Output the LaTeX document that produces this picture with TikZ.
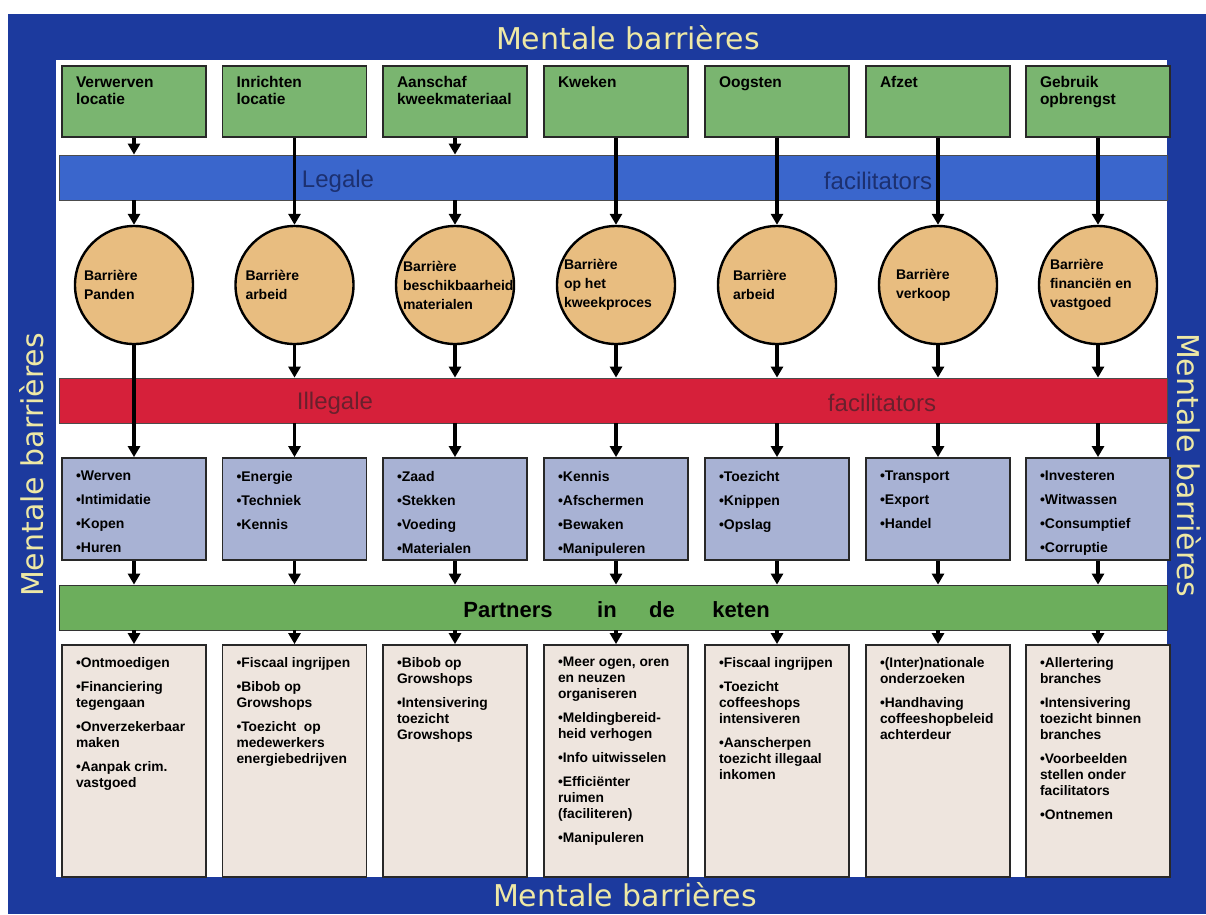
\documentclass[tikz,border=0pt]{standalone}
\usepackage{fontspec}
\setmainfont{Liberation Sans}
\newfontfamily\mbfont{DejaVu Sans}
\usetikzlibrary{arrows.meta}
\definecolor{frameblue}{RGB}{28,58,158}
\definecolor{titleyellow}{RGB}{238,232,165}
\definecolor{boxgreen}{RGB}{122,181,112}
\definecolor{barblue}{RGB}{58,102,204}
\definecolor{bartxtblue}{RGB}{28,48,112}
\definecolor{circfill}{RGB}{232,189,128}
\definecolor{barred}{RGB}{214,32,58}
\definecolor{bartxtred}{RGB}{105,32,45}
\definecolor{boxlav}{RGB}{168,178,212}
\definecolor{bargreen}{RGB}{108,174,92}
\definecolor{boxbeige}{RGB}{238,229,222}
\definecolor{edgegray}{RGB}{40,40,40}
\newcommand{\bxc}[2]{\parbox[c][#1][t]{124pt}{\raggedright\leftskip=4pt #2}}
\newcommand{\cxc}[2]{\parbox{#1}{\raggedright #2}}
\tikzset{
  every node/.style={inner sep=0pt},
  boxbase/.style={draw=edgegray, line width=1.8pt, inner xsep=10pt},
  greenbox/.style={boxbase, fill=boxgreen, inner ysep=10.5pt, font=\fontsize{15.5}{17}\selectfont\bfseries},
  lavbox/.style={boxbase, fill=boxlav, inner ysep=13pt, font=\fontsize{14}{24}\selectfont\bfseries},
  beigebox/.style={boxbase, fill=boxbeige, inner ysep=12pt, font=\fontsize{13.8}{16}\selectfont\bfseries},
  barrier/.style={circle, draw=black, line width=2.4pt, fill=circfill, minimum size=118pt, font=\fontsize{14}{19}\selectfont\bfseries},
  band/.style={draw=black!70, line width=0.8pt, minimum width=1108pt, minimum height=45pt},
  bandtxt/.style={font=\fontsize{24}{28}\selectfont},
  parttxt/.style={font=\fontsize{22}{26}\selectfont\bfseries},
  mentale/.style={font=\mbfont\fontsize{30}{34}\selectfont, text=titleyellow},
  arr/.style={draw=black, line width=3.4pt, -{Triangle[length=11pt,width=12pt]}}
}
\begin{document}
\begin{tikzpicture}[x=1pt,y=-1pt]
\useasboundingbox (0,0) rectangle (1206,914);
\fill[white] (0,0) rectangle (1206,914);
\fill[frameblue] (8,14) rectangle (1206,914);
\fill[white] (56,60) rectangle (1167,877);

% titles
\node[mentale] (ttop) at (628,38) {Mentale barrières};
\node[mentale] (tbot) at (625,895) {Mentale barrières};
\node[mentale, rotate=90] (tleft) at (32,465) {Mentale barrières};
\node[mentale, rotate=-90] (tright) at (1189,465) {Mentale barrières};

% bands
\node[band, fill=barblue] (legal) at (613,177.5) {};
\node[bandtxt, text=bartxtblue] (legalA) at (338,181) {Legale};
\node[bandtxt, text=bartxtblue] (legalB) at (878,181) {facilitators};
\node[band, fill=barred] (illegal) at (613,400.5) {};
\node[bandtxt, text=bartxtred] (illegalA) at (335,403) {Illegale};
\node[bandtxt, text=bartxtred] (illegalB) at (882,403) {facilitators};
\node[band, fill=bargreen, draw=black!80] (partners) at (613,607.5) {};
\node[parttxt] (pA) at (508,610) {Partners};
\node[parttxt] (pB) at (607,610) {in};
\node[parttxt] (pC) at (662,610) {de};
\node[parttxt] (pD) at (741,610) {keten};

% green process boxes
\node[greenbox] (g1) at (134,101.5) {\bxc{50pt}{Verwerven\\locatie}};
\node[greenbox] (g2) at (294.5,101.5) {\bxc{50pt}{Inrichten\\locatie}};
\node[greenbox] (g3) at (455,101.5) {\bxc{50pt}{Aanschaf\\kweekmateriaal}};
\node[greenbox] (g4) at (616,101.5) {\bxc{50pt}{Kweken}};
\node[greenbox] (g5) at (777,101.5) {\bxc{50pt}{Oogsten}};
\node[greenbox] (g6) at (938,101.5) {\bxc{50pt}{Afzet}};
\node[greenbox] (g7) at (1098,101.5) {\bxc{50pt}{Gebruik\\opbrengst}};

% barrier circles
\node[barrier] (c1) at (134,285) {\cxc{100pt}{Barrière\\Panden}};
\node[barrier] (c2) at (294.5,285) {\cxc{98pt}{Barrière\\arbeid}};
\node[barrier] (c3) at (455,285) {\cxc{104pt}{Barrière\\beschikbaarheid\\materialen}};
\node[barrier] (c4) at (616,285) {\cxc{104pt}{Barrière\\op het\\kweekproces}};
\node[barrier] (c5) at (777,285) {\cxc{88pt}{Barrière\\arbeid}};
\node[barrier] (c6) at (938,285) {\cxc{84pt}{Barrière\\verkoop}};
\node[barrier] (c7) at (1098,285) {\cxc{96pt}{Barrière\\financiën en\\vastgoed}};

% facilitator boxes
\node[lavbox] (f1) at (134,509) {\bxc{76pt}{•Werven\\•Intimidatie\\•Kopen\\•Huren}};
\node[lavbox] (f2) at (294.5,509) {\bxc{76pt}{•Energie\\•Techniek\\•Kennis}};
\node[lavbox] (f3) at (455,509) {\bxc{76pt}{•Zaad\\•Stekken\\•Voeding\\•Materialen}};
\node[lavbox] (f4) at (616,509) {\bxc{76pt}{•Kennis\\•Afschermen\\•Bewaken\\•Manipuleren}};
\node[lavbox] (f5) at (777,509) {\bxc{76pt}{•Toezicht\\•Knippen\\•Opslag}};
\node[lavbox] (f6) at (938,509) {\bxc{76pt}{•Transport\\•Export\\•Handel}};
\node[lavbox] (f7) at (1098,509) {\bxc{76pt}{•Investeren\\•Witwassen\\•Consumptief\\•Corruptie}};

% measure boxes
\node[beigebox] (m1) at (134,761) {\bxc{208pt}{•Ontmoedigen\\[8pt]•Financiering\\tegengaan\\[8pt]•Onverzekerbaar\\maken\\[8pt]•Aanpak crim.\\vastgoed}};
\node[beigebox] (m2) at (294.5,761) {\bxc{208pt}{•Fiscaal ingrijpen\\[8pt]•Bibob op\\Growshops\\[8pt]•Toezicht~ op\\medewerkers\\energiebedrijven}};
\node[beigebox] (m3) at (455,761) {\bxc{208pt}{•Bibob op\\Growshops\\[8pt]•Intensivering\\toezicht\\Growshops}};
\node[beigebox] (m4) at (616,761) {\bxc{208pt}{•Meer ogen, oren\\en neuzen\\organiseren\\[8pt]•Meldingbereid-\\heid verhogen\\[8pt]•Info uitwisselen\\[8pt]•Efficiënter\\ruimen\\(faciliteren)\\[8pt]•Manipuleren}};
\node[beigebox] (m5) at (777,761) {\bxc{208pt}{•Fiscaal ingrijpen\\[8pt]•Toezicht\\coffeeshops\\intensiveren\\[8pt]•Aanscherpen\\toezicht illegaal\\inkomen}};
\node[beigebox] (m6) at (938,761) {\bxc{208pt}{•(Inter)nationale\\onderzoeken\\[8pt]•Handhaving\\coffeeshopbeleid\\achterdeur}};
\node[beigebox] (m7) at (1098,761) {\bxc{208pt}{•Allertering\\branches\\[8pt]•Intensivering\\toezicht binnen\\branches\\[8pt]•Voorbeelden\\stellen onder\\facilitators\\[8pt]•Ontnemen}};

% connectors: process boxes -> barriers
\draw[arr] (g1.south) -- (g1.south |- legal.north);
\draw[arr] (g1.south |- legal.south) -- (c1.north);
\draw[arr] (g3.south) -- (g3.south |- legal.north);
\draw[arr] (g3.south |- legal.south) -- (c3.north);
\foreach \k in {2,4,5,6,7} {\draw[arr] (g\k.south) -- (c\k.north);}

% barriers -> facilitator boxes
\draw[arr] (c1.south) -- (f1.north);
\foreach \k in {2,...,7} {
  \draw[arr] (c\k.south) -- (c\k.south |- illegal.north);
  \draw[arr] (c\k.south |- illegal.south) -- (f\k.north);
}

% facilitator boxes -> partners -> measures
\foreach \k in {1,...,7} {
  \draw[arr] (f\k.south) -- (f\k.south |- partners.north);
  \draw[arr] (m\k.north |- partners.south) -- (m\k.north);
}
\end{tikzpicture}
\end{document}
